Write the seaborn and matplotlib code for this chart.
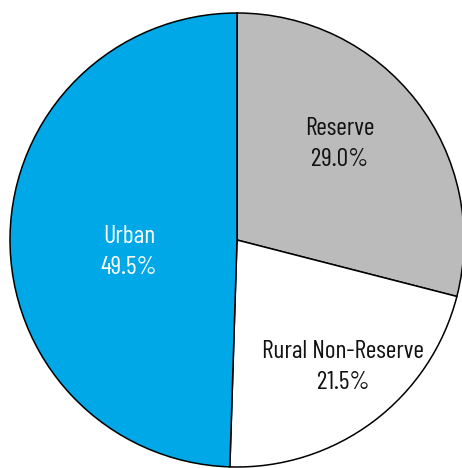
import matplotlib
matplotlib.use("Agg")
import matplotlib.pyplot as plt
import seaborn as sns

# Data
categories = ["Reserve", "Rural Non-Reserve", "Urban"]
shares = [29.0, 21.5, 49.5]
colors = ["#bbbbbb", "#ffffff", "#00a8e8"]
text_colors = ["#111111", "#111111", "#ffffff"]

# label anchor points (pixels, origin bottom-left) for each slice
label_pos = [(340, 324), (343, 101), (129, 216)]

sns.set_theme(style="white")
plt.rcParams["font.family"] = ["Barlow Condensed", "DejaVu Sans"]

fig = plt.figure(figsize=(4.62, 4.68), dpi=100)
ax = fig.add_axes([0, 0, 1, 1])

ax.pie(shares, colors=colors, startangle=90, counterclock=False,
       center=(237, 228), radius=227, frame=True,
       wedgeprops=dict(edgecolor="black", linewidth=1.1))
ax.set_xlim(0, 462)
ax.set_ylim(0, 468)
ax.set_aspect("equal")
ax.axis("off")

for name, val, (x, y), tc in zip(categories, shares, label_pos, text_colors):
    ax.text(x, y, f"{name}\n{val:.1f}%", ha="center", va="center",
            fontsize=18.5, color=tc, linespacing=1.45)

fig.savefig("out.png", dpi=100)
